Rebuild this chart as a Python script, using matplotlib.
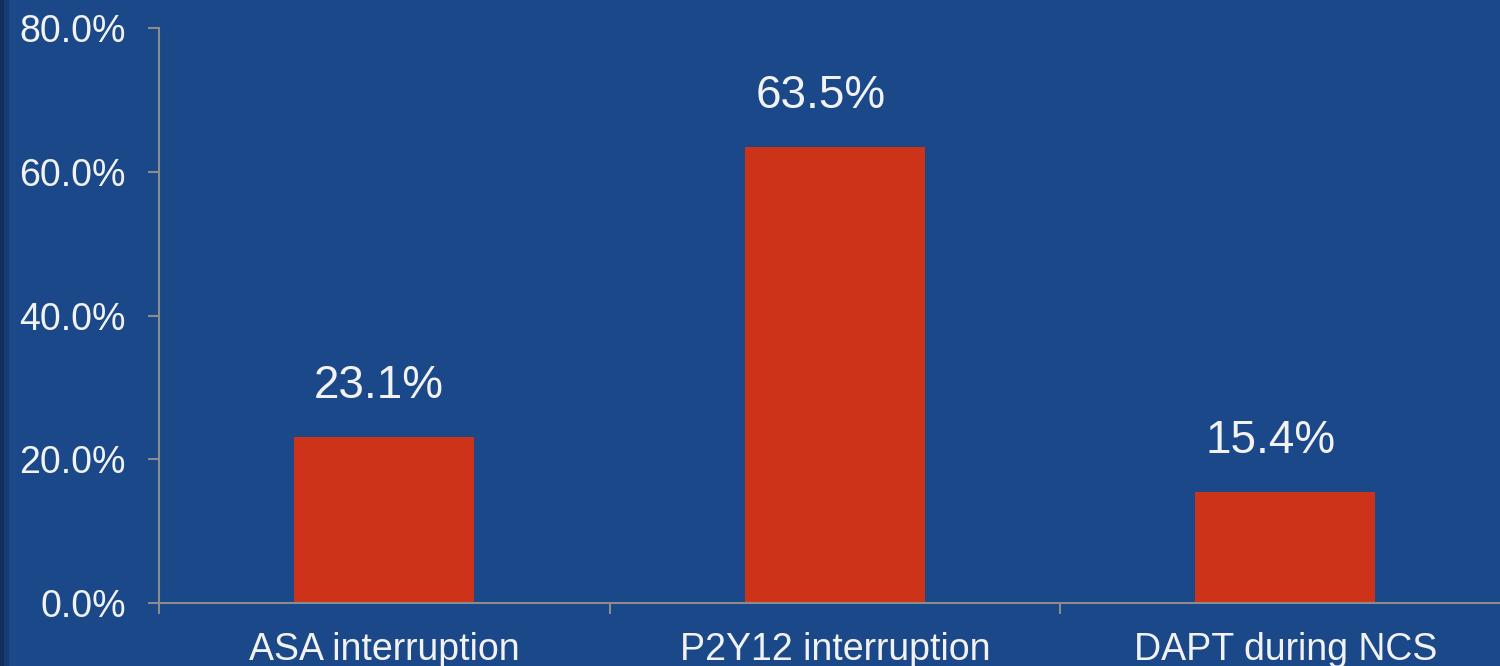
import matplotlib
matplotlib.use("Agg")
import matplotlib.pyplot as plt
from matplotlib.patches import Rectangle

categories = ["ASA interruption", "P2Y12 interruption", "DAPT during NCS"]
values = [23.1, 63.5, 15.4]
yticks = [0, 20, 40, 60, 80]
ytick_labels = ["0.0%", "20.0%", "40.0%", "60.0%", "80.0%"]

BG = "#1a4889"
BAR = "#cc3318"
AX = "#8c8c8c"
TXT = "#f2f2f2"

plt.rcParams['font.family'] = ['Liberation Sans', 'DejaVu Sans']

W, H = 1500, 666
fig = plt.figure(figsize=(W / 100, H / 100), dpi=100, facecolor=BG)
# dark strip at left edge
fig.patches.append(Rectangle((0, 0), 4 / W, 1, transform=fig.transFigure,
                             facecolor="#122f5c", edgecolor="none", zorder=0))
fig.patches.append(Rectangle((4 / W, 0), 5 / W, 1, transform=fig.transFigure,
                             facecolor="#163c73", edgecolor="none", zorder=0))

left = 159 / W
bottom = (H - 603) / H
top = (H - 28) / H
cw = 450.5
ax = fig.add_axes([left, bottom, 3 * cw / W, top - bottom])
ax.set_facecolor(BG)

x = list(range(len(categories)))
ax.bar(x, values, width=0.4, color=BAR, zorder=2)
ax.set_xlim(-0.5, len(categories) - 0.5)
ax.set_ylim(0, 80)

label_dx = [-3.6, -10, -10.8]
for xi, v, dx in zip(x, values, label_dx):
    ax.annotate(f"{v:.1f}%", xy=(xi, v), xytext=(dx, 28),
                textcoords="offset points", ha="center", va="baseline",
                color=TXT, fontsize=33)

ax.set_yticks(yticks)
ax.set_yticklabels(ytick_labels)
ax.set_xticks(x)
ax.set_xticklabels(categories)
ax.set_xticks([i - 0.5 for i in range(len(categories) + 1)], minor=True)

ax.tick_params(axis="y", which="major", direction="out", length=8, width=1.5,
               color=AX, labelcolor=TXT, labelsize=27, pad=16)
ax.tick_params(axis="x", which="major", length=0, labelcolor=TXT,
               labelsize=27, pad=21)
ax.tick_params(axis="x", which="minor", direction="out", length=8, width=1.5,
               color=AX)

for s in ["top", "right"]:
    ax.spines[s].set_visible(False)
for s in ["left", "bottom"]:
    ax.spines[s].set_color(AX)
    ax.spines[s].set_linewidth(1.5)

fig.savefig("out.png", dpi=100, facecolor=BG)
